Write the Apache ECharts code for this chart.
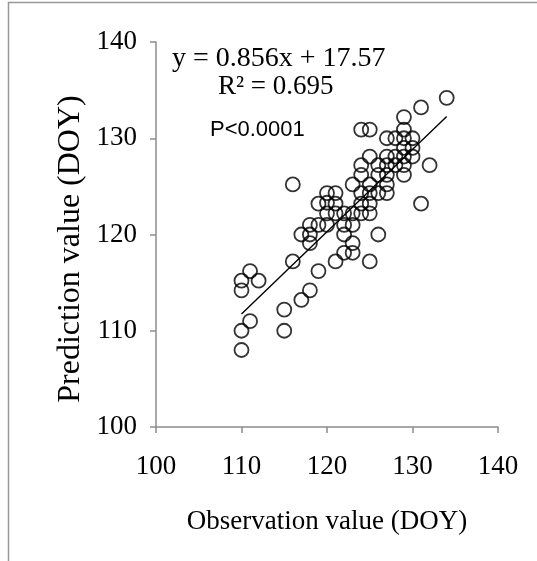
<!DOCTYPE html>
<html>
<head>
<meta charset="utf-8">
<script src="https://cdn.jsdelivr.net/npm/echarts@6/dist/echarts.min.js"></script>
<style>
html,body{margin:0;padding:0;background:#fff;}
#c{width:537px;height:561px;}
</style>
</head>
<body>
<div id="c"></div>
<script>
var xTicks = [100, 110, 120, 130, 140];
var yTicks = [100, 110, 120, 130, 140];
var obsX = [110,110,111,110,110,111,112,115,115,116,116,117,118,117,118,118,118,119,119,119,
            120,120,120,120,121,121,121,121,122,122,122,122,123,123,123,123,123,
            124,124,124,124,124,124,125,125,125,125,125,125,125,126,126,126,126,
            127,127,127,127,127,127,128,128,128,129,129,129,129,129,129,129,130,130,130,131,131,132,134];
var predY = [108,110,111,115.2,114.2,116.2,115.2,110,112.2,117.2,125.2,113.2,114.2,120,121,120,119.1,121,116.2,123.2,
             121,122.2,123.3,124.3,124.3,123.2,122.2,117.2,122.2,121,120,118.1,125.2,122.2,121,119.1,118.1,
             130.9,127.2,126.2,124.3,123.2,122.2,130.9,128.1,125.2,124.3,123.2,122.2,117.2,120,127.2,126.2,124.3,
             130,128.1,127.2,126.2,125.2,124.3,127.2,130,128.1,132.2,130.9,130,129,128.1,127.2,126.2,130,129,128.1,133.2,123.2,127.2,134.2];
var trendX = [110, 134];
var trendY = [111.73, 132.27];
var eqText = 'y = 0.856x + 17.57';
var r2Text = 'R\u00b2 = 0.695';
var pText = 'P<0.0001';
var xName = 'Observation value (DOY)';
var yName = 'Prediction value (DOY)';

var pts = obsX.map(function(x, i){ return [x, predY[i]]; });
var trend = trendX.map(function(x, i){ return [x, trendY[i]]; });

var chart = echarts.init(document.getElementById('c'), null, {renderer:'canvas'});
var serif = '"Liberation Serif", "Times New Roman", serif';
var axisCol = '#8c8c8c';
chart.setOption({
  backgroundColor: '#fff',
  animation: false,
  grid: {left:156, right:39, top:42, bottom:134},
  xAxis: {
    type:'value', min:xTicks[0], max:xTicks[xTicks.length-1], interval:10,
    name: xName, nameLocation:'middle', nameGap:81,
    nameTextStyle:{fontFamily:serif, fontSize:27, color:'#000'},
    axisLine:{show:true, lineStyle:{color:axisCol, width:1.5}},
    axisTick:{show:true, inside:false, length:6, lineStyle:{color:axisCol, width:1.5}},
    axisLabel:{fontFamily:serif, fontSize:27, color:'#000', margin:26},
    splitLine:{show:false}
  },
  yAxis: {
    type:'value', min:yTicks[0], max:yTicks[yTicks.length-1], interval:10,
    axisLine:{show:true, lineStyle:{color:axisCol, width:1.5}},
    axisTick:{show:true, inside:false, length:6, lineStyle:{color:axisCol, width:1.5}},
    axisLabel:{fontFamily:serif, fontSize:27, color:'#000', margin:19},
    splitLine:{show:false}
  },
  graphic: [
    {type:'line', shape:{x1:8, y1:2.5, x2:537, y2:2.5}, style:{stroke:'#999', lineWidth:1.5}, silent:true},
    {type:'line', shape:{x1:8.5, y1:2, x2:8.5, y2:561}, style:{stroke:'#999', lineWidth:1.5}, silent:true},
    {type:'text', x:71, y:249, rotation:Math.PI/2,
      style:{text:yName, font:'32px ' + serif, fill:'#000', textAlign:'center', textVerticalAlign:'middle'}},
    {type:'text', left:172, top:45, style:{text:eqText, font:'28px ' + serif, fill:'#000'}},
    {type:'text', left:218, top:73, style:{text:r2Text, font:'27px ' + serif, fill:'#000'}},
    {type:'text', left:210, top:119, style:{text:pText, font:'22px "Liberation Sans", Arial, sans-serif', fill:'#000'}}
  ],
  series: [
    {
      type:'scatter', data: pts, symbol:'circle', symbolSize:14,
      itemStyle:{color:'rgba(255,255,255,0)', borderColor:'#000', borderWidth:1.8}
    },
    {
      type:'line', data: trend, symbol:'none',
      lineStyle:{color:'#000', width:1.4}
    }
  ]
});
</script>
</body>
</html>
